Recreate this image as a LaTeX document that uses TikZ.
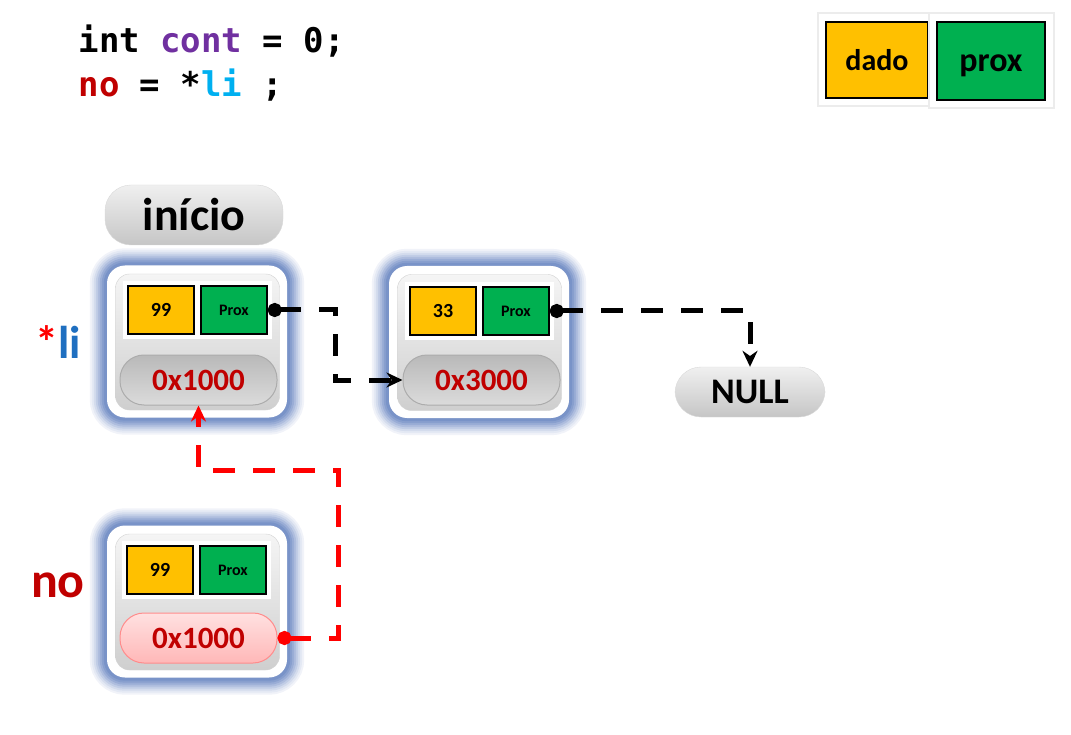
\documentclass[tikz,border=0pt]{standalone}
\usepackage{fontspec}
\setmainfont{Carlito}
\newfontfamily\codefont{DejaVu Sans Mono}
\usetikzlibrary{arrows.meta}
\usetikzlibrary{positioning}
\usetikzlibrary{backgrounds}

\definecolor{dadoyellow}{HTML}{FFC000}
\definecolor{proxgreen}{HTML}{00B050}
\definecolor{addrred}{HTML}{C00000}
\definecolor{contpurple}{HTML}{7030A0}
\definecolor{licyan}{HTML}{00B0F0}
\definecolor{liblue}{HTML}{1F6FC0}
\definecolor{glowblue}{HTML}{4A6DB5}

\tikzset{
  cellbox/.style={draw=black, line width=1.5pt, inner sep=0pt,
    preaction={draw=white, line width=10pt}},
  datacell/.style={cellbox, fill=dadoyellow, minimum width=66pt, minimum height=48pt,
    font=\bfseries\fontsize{20}{22}\selectfont},
  proxcell/.style={cellbox, fill=proxgreen, minimum width=66pt, minimum height=48pt,
    font=\bfseries\fontsize{16}{18}\selectfont},
  legcell/.style={cellbox, text height=21pt, text depth=0pt,
    preaction={draw=gray!15, line width=19pt},
    preaction={draw=white, line width=15pt}},
  nodebox/.style={rounded corners=18pt, fill=white, minimum width=180pt, minimum height=152pt},
  glowline/.style={rounded corners=18pt},
  innerbox/.style={rounded corners=14pt, draw=gray!35, shading=axis, top color=gray!8,
    bottom color=gray!38, minimum width=164pt, minimum height=136pt},
  addrpill/.style={rounded corners=24pt, draw=gray!65, line width=1pt, shading=axis,
    top color=gray!55, bottom color=gray!28, minimum width=157pt, minimum height=50pt,
    text=addrred, font=\bfseries\fontsize{31}{36}\selectfont},
  addrpillno/.style={addrpill, draw=red!45, top color=red!12, bottom color=red!28},
  labelpill/.style={rounded corners=26pt, draw=gray!30, shading=axis, top color=gray!12,
    bottom color=gray!45, text=black},
  ptr/.style={line width=5pt, dash pattern=on 22pt off 18pt,
    {Circle[length=14pt]}-{Stealth[length=16pt,width=15pt]}},
}

\begin{document}
\begin{tikzpicture}[x=1pt, y=-1pt]
  \useasboundingbox (0,0) rectangle (1071,735);

  % code lines
  \node[anchor=base west, font=\codefont\bfseries\fontsize{34}{40}\selectfont] (codeint) at (75,53)
    {int \textcolor{contpurple}{cont} = 0;};
  \node[anchor=base west, font=\codefont\bfseries\fontsize{34}{40}\selectfont] (codeno) at (75,97)
    {\textcolor{addrred}{no} = *\textcolor{licyan}{li} ;};

  % legend
  \node[legcell, fill=dadoyellow, minimum width=102pt, minimum height=76pt,
    font=\bfseries\fontsize{30}{34}\selectfont] (legdado) at (877,60) {dado};
  \node[legcell, fill=proxgreen, minimum width=108pt, minimum height=78pt,
    font=\bfseries\fontsize{34}{38}\selectfont] (legprox) at (991,61) {prox};

  % inicio
  \node[labelpill, minimum width=178pt, minimum height=60pt,
    font=\bfseries\fontsize{46}{50}\selectfont] (inicio) at (194,215) {início};

  % first node
  \node[nodebox] (box1) at (197,341.5) {};
  \node[innerbox] (inner1) at (197.5,342) {};
  \node[datacell] (dado1) at (161,310) {99};
  \node[proxcell] (prox1) at (234,310) {Prox};
  \node[addrpill] (addr1) at (198.5,380) {0x1000};

  % second node
  \node[nodebox] (box2) at (479,342) {};
  \node[innerbox] (inner2) at (479.5,342.5) {};
  \node[datacell] (dado2) at (443,311) {33};
  \node[proxcell] (prox2) at (516,311) {Prox};
  \node[addrpill] (addr2) at (481.5,380) {0x3000};

  % NULL
  \node[labelpill, minimum width=150pt, minimum height=50pt,
    font=\bfseries\fontsize{36}{40}\selectfont] (null) at (750,392) {NULL};

  % node no
  \node[nodebox] (box3) at (197,601.5) {};
  \node[innerbox] (inner3) at (197.5,602) {};
  \node[datacell] (dado3) at (160,570) {99};
  \node[proxcell] (prox3) at (233,570) {Prox};
  \node[addrpillno] (addr3) at (198.5,638) {0x1000};

  % blue glow round the boxes
  \begin{scope}[on background layer]
    \foreach \b in {box1,box2,box3}
      \foreach \w/\c in {34/8,30/15,26/24,22/34,18/45,14/56,10/66,6/74}
        \draw[glowline, line width=\w pt, draw=glowblue!\c] (\b.south west) rectangle (\b.north east);
  \end{scope}

  % names
  \node[font=\bfseries\fontsize{46}{50}\selectfont] (lilabel) at (58,342)
    {\textcolor{red}{*}\textcolor{liblue}{li}};
  \node[font=\bfseries\fontsize{50}{54}\selectfont, text=addrred] (nolabel) at (58,585) {no};

  % pointers
  \coordinate (bendli) at (335,310);
  \draw[ptr] (prox1.east) -- (bendli) |- (addr2.west);
  \draw[ptr] (prox2.east) -| (null.north);
  \coordinate (bendno) at (338,470);
  \draw[ptr, red] (addr3.east) -| (bendno) -| (addr1.south);
\end{tikzpicture}
\end{document}
